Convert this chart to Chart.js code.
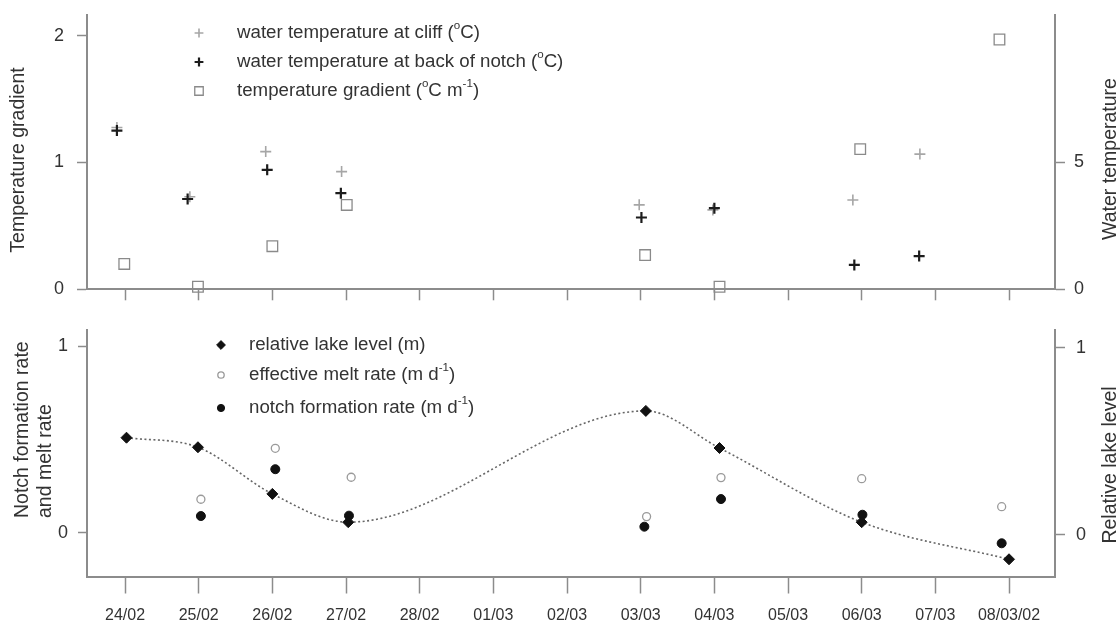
<!DOCTYPE html>
<html>
<head>
<meta charset="utf-8">
<script src="https://cdn.jsdelivr.net/npm/chart.js@4.4.1/dist/chart.umd.min.js"></script>
<style>
body{margin:0;background:#fff;width:1120px;height:624px;overflow:hidden;position:relative}
canvas{position:absolute;left:0}
#top{top:0}
#bottom{top:310px}
</style>
</head>
<body>
<canvas id="top" width="1120" height="310"></canvas>
<canvas id="bottom" width="1120" height="314"></canvas>
<script>
// days are counted from 24/02 (0) to 08/03 (12)
var dateLabels=["24/02","25/02","26/02","27/02","28/02","01/03","02/03","03/03","04/03","05/03","06/03","07/03","08/03/02"]

// top panel
var cliffDays=[-0.11,0.88,1.91,2.94,6.98,7.98,9.88,10.79]
var cliffTemp=[6.38,3.65,5.43,4.64,3.33,3.13,3.52,5.33]
var notchDays=[-0.11,0.85,1.93,2.93,7.01,8.0,9.9,10.78]
var notchTemp=[6.26,3.56,4.71,3.79,2.83,3.2,0.96,1.31]
var gradDays=[-0.01,0.99,2.0,3.01,7.06,8.07,9.98,11.87]
var gradValues=[0.2,0.02,0.34,0.665,0.27,0.02,1.105,1.97]
var gradTicks=[0,1,2]
var waterTicks=[0,5]

// bottom panel
var lakeDays=[0.02,0.99,2.0,3.03,7.07,8.07,10.0,12.0]
var lakeLevel=[0.519,0.468,0.219,0.068,0.662,0.464,0.068,-0.13]
var meltDays=[1.03,2.04,3.07,7.08,8.09,10.0,11.9]
var meltRate=[0.179,0.452,0.297,0.086,0.295,0.289,0.139]
var notchRateDays=[1.03,2.04,3.04,7.05,8.09,10.01,11.9]
var notchRate=[0.089,0.34,0.091,0.032,0.18,0.096,-0.057]
var rateTicks=[0,1]
var levelTicks=[0,1]

var topLegend=["water temperature at cliff (^{o}C)","water temperature at back of notch (^{o}C)","temperature gradient (^{o}C m^{-1})"]
var bottomLegend=["relative lake level (m)","effective melt rate (m d^{-1})","notch formation rate (m d^{-1})"]

var FONT="'Liberation Sans', Arial, sans-serif"
var AXIS="#8c8c8c"
var TEXT="#333"

function pts(xs,ys){
    return xs.map(function(x,i){return {x:x,y:ys[i]}})
}

function xScale(showLabels,tickLen,height){
    return {
        type:"linear",position:"bottom",min:-0.516,max:12.624,
        afterBuildTicks:function(s){s.ticks=dateLabels.map(function(l,i){return {value:i}})},
        afterFit:function(s){s.height=height;s.paddingLeft=0;s.paddingRight=0},
        grid:{drawOnChartArea:false,drawTicks:true,tickLength:tickLen,tickColor:AXIS,tickWidth:1.5},
        border:{display:true,color:AXIS,width:2},
        ticks:{display:showLabels,autoSkip:false,maxRotation:0,padding:12,color:TEXT,
            font:{family:FONT,size:16},callback:function(v){return dateLabels[v]}}
    }
}

function yScale(pos,min,max,tickVals,width,tickLen,pad){
    return {
        type:"linear",position:pos,min:min,max:max,
        afterBuildTicks:function(s){s.ticks=tickVals.map(function(v){return {value:v}})},
        afterFit:function(s){s.width=width;s.paddingTop=0;s.paddingBottom=0},
        grid:{drawOnChartArea:false,drawTicks:true,tickLength:tickLen,tickColor:AXIS,tickWidth:1.5},
        border:{display:true,color:AXIS,width:2},
        ticks:{padding:pad,color:TEXT,font:{family:FONT,size:18}}
    }
}

// text with ^{...} superscripts
function richText(ctx,str,x,y,size){
    var parts=str.split(/(\^\{[^}]*\})/)
    parts.forEach(function(p){
        if(!p) return
        var sup=p.charAt(0)=="^"
        var t=sup?p.slice(2,-1):p
        ctx.font=(sup?size*0.62:size)+"px "+FONT
        ctx.fillText(t,x,sup?y-size*0.36:y)
        x+=ctx.measureText(t).width
    })
}

function vText(ctx,str,x,y,align){
    ctx.save()
    ctx.translate(x,y)
    ctx.rotate(-Math.PI/2)
    ctx.textAlign=align
    ctx.textBaseline="middle"
    ctx.font="19.5px "+FONT
    ctx.fillStyle=TEXT
    ctx.fillText(str,0,0)
    ctx.restore()
}

function marker(ctx,ds,x,y){
    ctx.save()
    ctx.fillStyle=ds.pointBackgroundColor||"rgba(0,0,0,0)"
    ctx.strokeStyle=ds.pointBorderColor
    ctx.lineWidth=ds.pointBorderWidth
    Chart.helpers.drawPoint(ctx,{pointStyle:ds.pointStyle,radius:ds.pointRadius*0.8,rotation:0,borderWidth:ds.pointBorderWidth},x,y)
    ctx.restore()
}

function extras(legend,order,mx,tx,ys,titles){
    return {
        id:"extras",
        afterDraw:function(chart){
            var ctx=chart.ctx
            legend.forEach(function(txt,i){
                marker(ctx,chart.data.datasets[order[i]],mx,ys[i])
                ctx.save()
                ctx.fillStyle=TEXT
                ctx.textBaseline="middle"
                ctx.textAlign="left"
                richText(ctx,txt,tx,ys[i],18.7)
                ctx.restore()
            })
            titles.forEach(function(t){vText(ctx,t[0],t[1],t[2],t[3])})
        }
    }
}

var topChart=new Chart(document.getElementById("top"),{
    type:"scatter",
    data:{datasets:[
        {label:"cliff",data:pts(cliffDays,cliffTemp),yAxisID:"yT",order:1,clip:false,
            pointStyle:"cross",pointRadius:5.5,pointBorderColor:"#a6a6a6",pointBorderWidth:1.6,pointBackgroundColor:"rgba(0,0,0,0)"},
        {label:"notch",data:pts(notchDays,notchTemp),yAxisID:"yT",order:0,clip:false,
            pointStyle:"cross",pointRadius:5.5,pointBorderColor:"#1c1c1c",pointBorderWidth:2.2,pointBackgroundColor:"rgba(0,0,0,0)"},
        {label:"gradient",data:pts(gradDays,gradValues),yAxisID:"y",order:2,clip:false,
            pointStyle:"rect",pointRadius:7.5,pointBorderColor:"#8a8a8a",pointBorderWidth:1.3,pointBackgroundColor:"rgba(0,0,0,0)"}
    ]},
    options:{
        responsive:false,animation:false,events:[],
        layout:{padding:{top:15,left:0,right:0,bottom:0}},
        plugins:{legend:{display:false},tooltip:{enabled:false}},
        scales:{
            x:xScale(false,11,20.7),
            y:yScale("left",0,2.163,gradTicks,87,10,13),
            yT:yScale("right",0,10.815,waterTicks,65,10,9)
        }
    },
    plugins:[extras(topLegend,[0,1,2],199,237,[33,62,91],
        [["Temperature gradient",19,160,"center"],["Water temperature",1111,159,"center"]])]
})

var bottomChart=new Chart(document.getElementById("bottom"),{
    type:"scatter",
    data:{datasets:[
        {label:"lake",data:pts(lakeDays,lakeLevel),yAxisID:"yR",order:0,clip:false,showLine:true,
            cubicInterpolationMode:"monotone",borderColor:"#666",borderWidth:1.6,borderDash:[2,2.5],
            pointStyle:"rectRot",pointRadius:5.5,pointBorderColor:"#111",pointBorderWidth:1,pointBackgroundColor:"#111"},
        {label:"melt",data:pts(meltDays,meltRate),yAxisID:"y",order:2,clip:false,
            pointStyle:"circle",pointRadius:4,pointBorderColor:"#9a9a9a",pointBorderWidth:1.3,pointBackgroundColor:"rgba(0,0,0,0)"},
        {label:"notch rate",data:pts(notchRateDays,notchRate),yAxisID:"y",order:1,clip:false,
            pointStyle:"circle",pointRadius:4.5,pointBorderColor:"#111",pointBorderWidth:1,pointBackgroundColor:"#111"}
    ]},
    options:{
        responsive:false,animation:false,events:[],
        layout:{padding:{top:20,left:0,right:0,bottom:0}},
        plugins:{legend:{display:false},tooltip:{enabled:false}},
        scales:{
            x:xScale(true,17,47.5),
            y:yScale("left",-0.235,1.086,rateTicks,87,9,10),
            yR:yScale("right",-0.222,1.094,levelTicks,65,10,11)
        }
    },
    plugins:[extras(bottomLegend,[0,1,2],221,249,[35,65,98],
        [["Notch formation rate",23,208,"left"],["and melt rate",46,208,"left"],["Relative lake level",1111,155,"center"]])]
})
</script>
</body>
</html>
